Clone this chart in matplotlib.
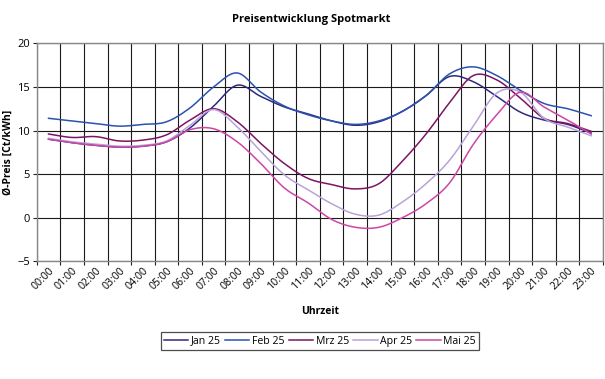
import matplotlib
matplotlib.use("Agg")
import numpy as np
import matplotlib.pyplot as plt
from matplotlib.ticker import FixedLocator, NullFormatter

plt.rcParams['font.family'] = ['Open Sans', 'DejaVu Sans']

# hourly averages (ct/kWh)
hours = [f"{h:02d}:00" for h in range(24)]
jan25 = [9.0, 8.6, 8.3, 8.1, 8.2, 8.7, 10.3, 12.8, 15.2, 13.9, 12.7, 11.9,
         11.1, 10.6, 11.0, 12.2, 14.0, 16.2, 15.6, 13.9, 12.1, 11.2, 10.7, 9.7]
feb25 = [11.4, 11.1, 10.8, 10.5, 10.7, 11.0, 12.6, 15.0, 16.6, 14.4, 12.8, 11.8,
         11.1, 10.7, 11.1, 12.2, 14.0, 16.5, 17.3, 16.3, 14.6, 13.1, 12.5, 11.7]
mrz25 = [9.6, 9.2, 9.3, 8.8, 8.9, 9.5, 11.2, 12.5, 11.0, 8.5, 6.2, 4.5,
         3.8, 3.3, 3.9, 6.5, 9.6, 13.2, 16.3, 15.8, 13.7, 11.4, 10.8, 9.9]
apr25 = [9.1, 8.7, 8.45, 8.2, 8.3, 8.8, 10.6, 12.4, 10.4, 7.6, 4.9, 3.2,
         1.6, 0.4, 0.3, 1.8, 3.9, 6.6, 10.5, 14.3, 14.4, 11.4, 10.4, 9.4]
mai25 = [9.0, 8.6, 8.3, 8.1, 8.2, 8.7, 10.1, 10.2, 8.7, 6.2, 3.4, 1.7,
         -0.2, -1.1, -1.1, 0.0, 1.6, 4.0, 8.4, 11.8, 14.4, 12.7, 11.2, 9.6]

series = [("Jan 25", jan25, "#2d2a7e"),
          ("Feb 25", feb25, "#2a52b0"),
          ("Mrz 25", mrz25, "#7d1463"),
          ("Apr 25", apr25, "#b9a2d9"),
          ("Mai 25", mai25, "#cc46a6")]


def smooth(x, y, n=12):
    """Catmull-Rom curve through the points, like Excel's smoothed lines."""
    x = np.asarray(x, float)
    y = np.asarray(y, float)
    px = np.concatenate([[2 * x[0] - x[1]], x, [2 * x[-1] - x[-2]]])
    py = np.concatenate([[2 * y[0] - y[1]], y, [2 * y[-1] - y[-2]]])
    t = np.linspace(0, 1, n, endpoint=False)
    xs, ys = [], []
    for i in range(1, len(px) - 2):
        for p, out in ((px, xs), (py, ys)):
            p0, p1, p2, p3 = p[i - 1], p[i], p[i + 1], p[i + 2]
            out.extend(0.5 * (2 * p1 + (-p0 + p2) * t
                              + (2 * p0 - 5 * p1 + 4 * p2 - p3) * t ** 2
                              + (-p0 + 3 * p1 - 3 * p2 + p3) * t ** 3))
    xs.append(x[-1])
    ys.append(y[-1])
    return np.array(xs), np.array(ys)


fig = plt.figure(figsize=(6.05, 3.79), dpi=100)
ax = fig.add_axes([0.0607, 0.3106, 0.9360, 0.5751])

x = np.arange(len(hours))
for name, vals, col in series:
    sx, sy = smooth(x, vals)
    ax.plot(sx, sy, color=col, lw=1.1, label=name, zorder=3)

ax.set_xlim(-0.5, len(hours) - 0.5)
ax.set_ylim(-5, 20)
ax.set_yticks(np.arange(-5, 21, 5))

# gridlines on category boundaries, labels on category centres
ax.xaxis.set_major_locator(FixedLocator(np.arange(len(hours) + 1) - 0.5))
ax.xaxis.set_major_formatter(NullFormatter())
ax.xaxis.set_minor_locator(FixedLocator(x))
ax.set_xticklabels(hours, minor=True, rotation=45, ha="right",
                   rotation_mode="anchor", fontsize=7.6)
ax.tick_params(axis="x", which="minor", length=0, pad=3)
ax.tick_params(axis="x", which="major", length=3, color="#222222")
ax.tick_params(axis="y", length=3, labelsize=8, pad=2, color="#222222")

ax.grid(True, which="major", color="#1a1a1a", lw=0.8, zorder=1)
for s in ax.spines.values():
    s.set_color("#888888")
    s.set_linewidth(1.0)

ax.set_xlabel("Uhrzeit", fontsize=7.5, fontweight="bold", labelpad=10)
ax.set_ylabel("Ø-Preis [Ct/kWh]", fontsize=7.5, fontweight="bold")
ax.yaxis.set_label_coords(-0.040, 0.5)
fig.text(0.514, 0.948, "Preisentwicklung Spotmarkt", ha="center", va="center",
         fontsize=8, fontweight="bold")

leg = fig.legend(loc="center", bbox_to_anchor=(0.529, 0.1), ncol=5,
                 fontsize=7.6, frameon=True, fancybox=False, handlelength=2.3,
                 handletextpad=0.25, columnspacing=0.4, borderpad=0.3)
leg.get_frame().set_edgecolor("#222222")
leg.get_frame().set_linewidth(0.9)

fig.savefig("out.png", dpi=100)
